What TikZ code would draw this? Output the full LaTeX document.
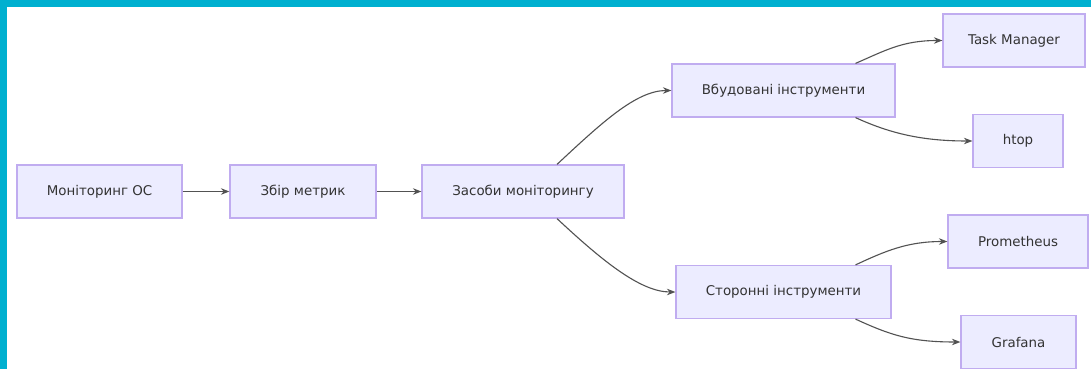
\documentclass[tikz,border=0pt]{standalone}
\usepackage{fontspec}
\setmainfont{DejaVu Sans}
\usetikzlibrary{arrows.meta}
\definecolor{frame}{HTML}{00B0D0}
\definecolor{boxfill}{HTML}{ECECFF}
\definecolor{boxline}{HTML}{C0ACF0}
\definecolor{ink}{HTML}{333333}
\begin{document}
\begin{tikzpicture}[x=1pt,y=-1pt,
  box/.style={draw=boxline, fill=boxfill, line width=1.2pt, inner sep=0pt,
    text=ink, font=\fontsize{13.4}{15}\selectfont, minimum height=53pt},
  link/.style={draw=ink!85, line width=1.1pt, -{Stealth[length=8.5pt,width=6.5pt]}}]
\useasboundingbox (0,0) rectangle (1091,369);
\fill[white] (0,0) rectangle (1091,369);
\fill[frame] (0,0) rectangle (1091,7);
\fill[frame] (0,0) rectangle (7,369);

\node[box, minimum width=165pt] (mon) at (99.5,191.5) {Моніторинг ОС};
\node[box, minimum width=146pt] (zbir) at (303,191.5) {Збір метрик};
\node[box, minimum width=202pt] (zas) at (523,191.5) {Засоби моніторингу};
\node[box, minimum width=223pt] (vbud) at (783.5,90.5) {Вбудовані інструменти};
\node[box, minimum width=215pt] (stor) at (783.5,292) {Сторонні інструменти};
\node[box, minimum width=142pt] (task) at (1014,40.5) {Task Manager};
\node[box, minimum width=90pt] (htop) at (1018,141) {htop};
\node[box, minimum width=140pt] (prom) at (1018,241.5) {Prometheus};
\node[box, minimum width=115pt] (graf) at (1018.5,342) {Grafana};

\draw[link] (mon) -- (zbir);
\draw[link] (zbir) -- (zas);
\draw[link] ([xshift=34pt]zas.north) .. controls +(45,-42) and +(-35,0) .. (vbud.west);
\draw[link] ([xshift=34pt]zas.south) .. controls +(45,42) and +(-35,0) .. (stor.west);
\draw[link] ([xshift=72pt]vbud.north) .. controls +(30,-13) and +(-40,0) .. (task.west);
\draw[link] ([xshift=72pt]vbud.south) .. controls +(35,16) and +(-50,0) .. (htop.west);
\draw[link] ([xshift=72pt]stor.north) .. controls +(30,-14) and +(-40,0) .. (prom.west);
\draw[link] ([xshift=72pt]stor.south) .. controls +(35,16) and +(-50,0) .. (graf.west);
\end{tikzpicture}
\end{document}
